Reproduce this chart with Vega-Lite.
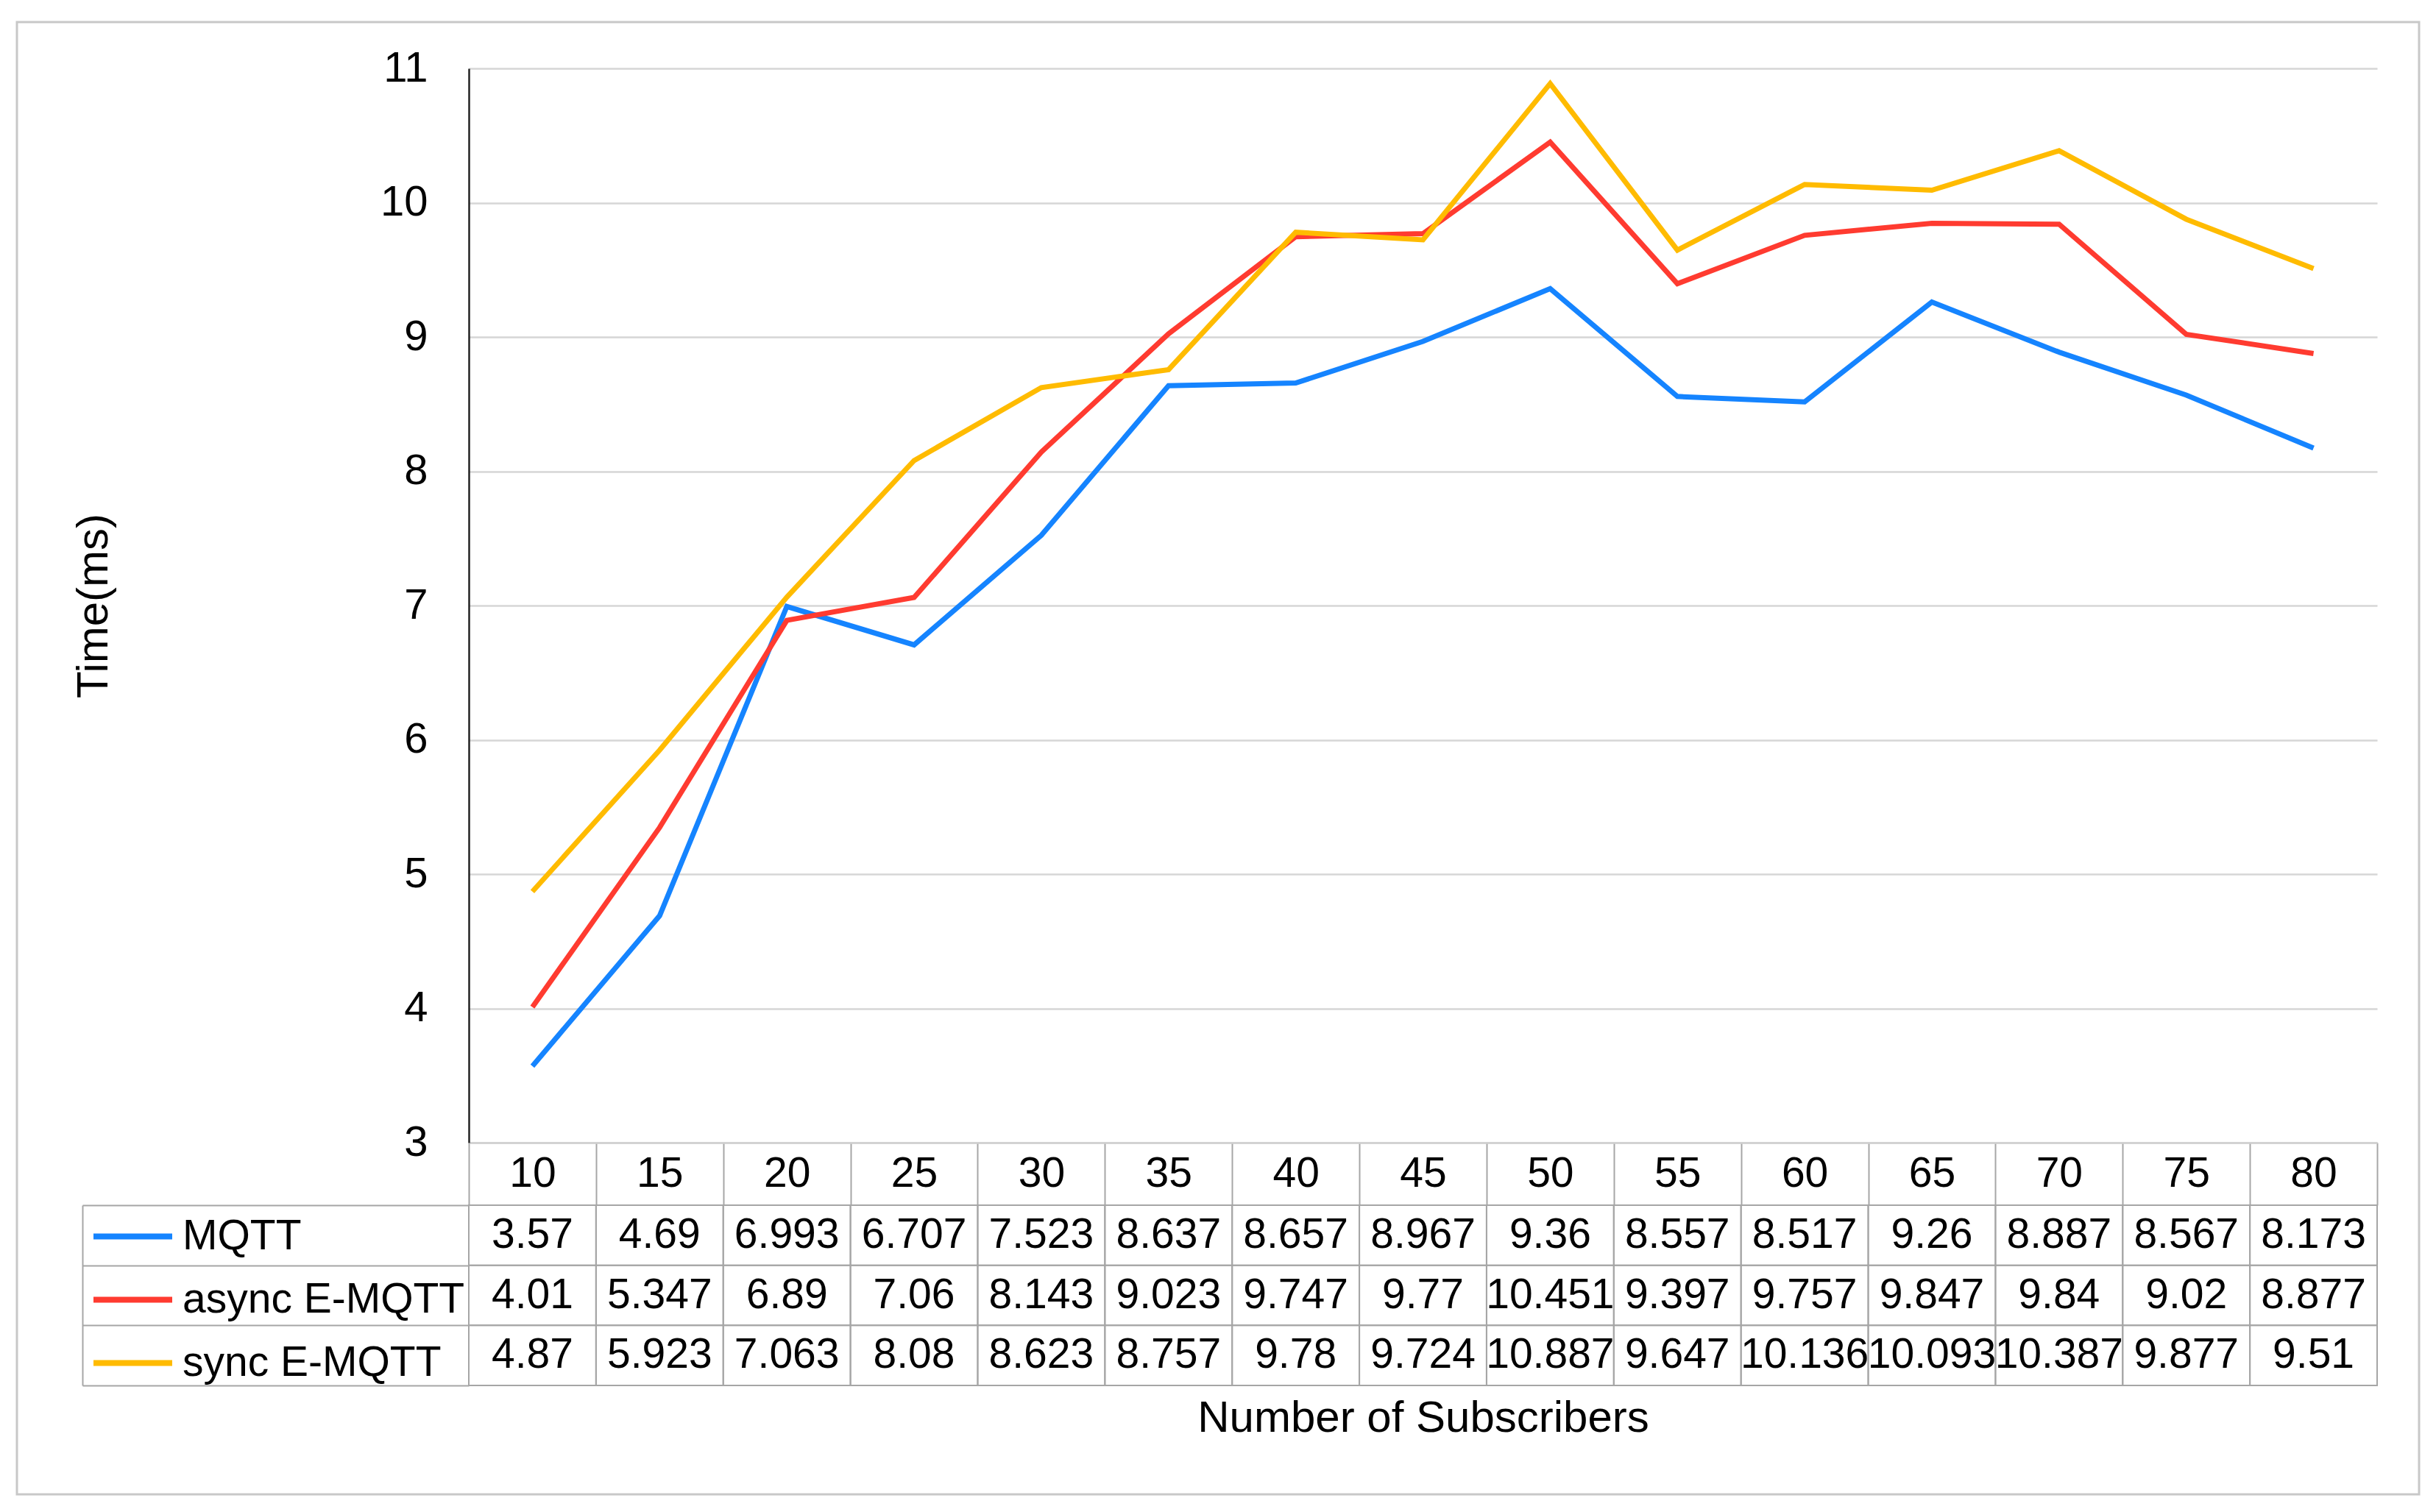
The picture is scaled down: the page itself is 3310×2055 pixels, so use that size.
{
  "$schema": "https://vega.github.io/schema/vega-lite/v6.json",
  "width": 3264,
  "height": 2001,
  "autosize": {"type": "none"},
  "padding": {"left": 23, "top": 30, "right": 23, "bottom": 24},
  "background": "white",
  "config": {
    "view": {"stroke": "#c8c8c8", "strokeWidth": 3},
    "font": "Liberation Sans",
    "axis": {"labelFont": "Liberation Sans", "titleFont": "Liberation Sans", "labelColor": "black", "titleColor": "black", "titleFontWeight": "normal"}
  },
  "data": {
    "values": [
      {"n": 10, "series": "MQTT", "time": 3.57},
      {"n": 15, "series": "MQTT", "time": 4.69},
      {"n": 20, "series": "MQTT", "time": 6.993},
      {"n": 25, "series": "MQTT", "time": 6.707},
      {"n": 30, "series": "MQTT", "time": 7.523},
      {"n": 35, "series": "MQTT", "time": 8.637},
      {"n": 40, "series": "MQTT", "time": 8.657},
      {"n": 45, "series": "MQTT", "time": 8.967},
      {"n": 50, "series": "MQTT", "time": 9.36},
      {"n": 55, "series": "MQTT", "time": 8.557},
      {"n": 60, "series": "MQTT", "time": 8.517},
      {"n": 65, "series": "MQTT", "time": 9.26},
      {"n": 70, "series": "MQTT", "time": 8.887},
      {"n": 75, "series": "MQTT", "time": 8.567},
      {"n": 80, "series": "MQTT", "time": 8.173},
      {"n": 10, "series": "async E-MQTT", "time": 4.01},
      {"n": 15, "series": "async E-MQTT", "time": 5.347},
      {"n": 20, "series": "async E-MQTT", "time": 6.89},
      {"n": 25, "series": "async E-MQTT", "time": 7.06},
      {"n": 30, "series": "async E-MQTT", "time": 8.143},
      {"n": 35, "series": "async E-MQTT", "time": 9.023},
      {"n": 40, "series": "async E-MQTT", "time": 9.747},
      {"n": 45, "series": "async E-MQTT", "time": 9.77},
      {"n": 50, "series": "async E-MQTT", "time": 10.451},
      {"n": 55, "series": "async E-MQTT", "time": 9.397},
      {"n": 60, "series": "async E-MQTT", "time": 9.757},
      {"n": 65, "series": "async E-MQTT", "time": 9.847},
      {"n": 70, "series": "async E-MQTT", "time": 9.84},
      {"n": 75, "series": "async E-MQTT", "time": 9.02},
      {"n": 80, "series": "async E-MQTT", "time": 8.877},
      {"n": 10, "series": "sync E-MQTT", "time": 4.87},
      {"n": 15, "series": "sync E-MQTT", "time": 5.923},
      {"n": 20, "series": "sync E-MQTT", "time": 7.063},
      {"n": 25, "series": "sync E-MQTT", "time": 8.08},
      {"n": 30, "series": "sync E-MQTT", "time": 8.623},
      {"n": 35, "series": "sync E-MQTT", "time": 8.757},
      {"n": 40, "series": "sync E-MQTT", "time": 9.78},
      {"n": 45, "series": "sync E-MQTT", "time": 9.724},
      {"n": 50, "series": "sync E-MQTT", "time": 10.887},
      {"n": 55, "series": "sync E-MQTT", "time": 9.647},
      {"n": 60, "series": "sync E-MQTT", "time": 10.136},
      {"n": 65, "series": "sync E-MQTT", "time": 10.093},
      {"n": 70, "series": "sync E-MQTT", "time": 10.387},
      {"n": 75, "series": "sync E-MQTT", "time": 9.877},
      {"n": 80, "series": "sync E-MQTT", "time": 9.51}
    ]
  },
  "layer": [
    {
      "mark": {"type": "line", "strokeWidth": 7},
      "encoding": {
        "x": {
          "field": "n", "type": "ordinal", "bandPosition": 0.5,
          "scale": {"type": "band", "range": [614, 3207], "paddingInner": 0, "paddingOuter": 0},
          "axis": {
            "orient": "bottom", "offset": -478, "title": "Number of Subscribers",
            "titleFontSize": 60, "titleY": 374, "titleBaseline": "middle",
            "labelFontSize": 57, "labelAngle": 0, "labelBaseline": "middle", "labelPadding": -42.5,
            "tickBand": "extent", "tickSize": 85, "tickColor": "#a6a6a6", "tickWidth": 2,
            "domainColor": "#d0d0d0", "domainWidth": 2.5, "grid": false
          }
        },
        "y": {
          "field": "time", "type": "quantitative",
          "scale": {"domain": [3, 11], "range": [1523, 63], "nice": false, "zero": false},
          "axis": {
            "orient": "left", "offset": -614, "values": [3, 4, 5, 6, 7, 8, 9, 10, 11],
            "title": "Time(ms)", "titleFontSize": 60, "titleX": -510, "titleY": 793,
            "titleAngle": -90, "titleAlign": "center", "titleBaseline": "middle",
            "labelFontSize": 58, "labelPadding": 56, "ticks": false,
            "domainColor": "#222222", "domainWidth": 2.5,
            "grid": true, "gridColor": "#d6d6d6", "gridWidth": 2.5
          }
        },
        "color": {
          "field": "series", "type": "nominal",
          "scale": {"domain": ["MQTT", "async E-MQTT", "sync E-MQTT"], "range": ["#1584ff", "#ff3b30", "#ffbb00"]},
          "legend": {
            "orient": "none", "legendX": 100, "legendY": 1593, "direction": "vertical",
            "title": null, "symbolType": "stroke", "symbolSize": 11449, "symbolStrokeWidth": 8,
            "labelFontSize": 57, "labelFont": "Liberation Sans", "labelColor": "black",
            "labelOffset": 10, "labelLimit": 0, "rowPadding": -6, "padding": 0
          }
        }
      }
    },
    {
      "layer": [
        {
          "mark": {"type": "rect", "fill": "white", "fillOpacity": 0, "stroke": "#a6a6a6", "strokeWidth": 2},
          "encoding": {
            "x": {"field": "n", "type": "ordinal", "scale": {"type": "band", "range": [614, 3207], "paddingInner": 0, "paddingOuter": 0}},
            "y": {
              "field": "series", "type": "nominal",
              "scale": {"type": "band", "domain": ["MQTT", "async E-MQTT", "sync E-MQTT"], "range": [1608, 1853], "paddingInner": 0, "paddingOuter": 0},
              "axis": {
                "orient": "left", "offset": -89, "title": null, "labels": false,
                "tickBand": "extent", "tickSize": -525, "tickColor": "#a6a6a6", "tickWidth": 2,
                "domainColor": "#a6a6a6", "domainWidth": 2, "grid": false
              }
            }
          }
        },
        {
          "mark": {"type": "text", "fontSize": 57, "font": "Liberation Sans", "color": "black", "align": "center", "baseline": "middle"},
          "encoding": {
            "x": {"field": "n", "type": "ordinal", "bandPosition": 0.5, "scale": {"type": "band", "range": [614, 3207], "paddingInner": 0, "paddingOuter": 0}},
            "y": {"field": "series", "type": "nominal", "bandPosition": 0.5, "scale": {"type": "band", "domain": ["MQTT", "async E-MQTT", "sync E-MQTT"], "range": [1608, 1853], "paddingInner": 0, "paddingOuter": 0}},
            "text": {"field": "time", "type": "quantitative", "format": "~g"}
          }
        }
      ]
    }
  ],
  "resolve": {"scale": {"y": "independent"}, "axis": {"y": "independent"}}
}
